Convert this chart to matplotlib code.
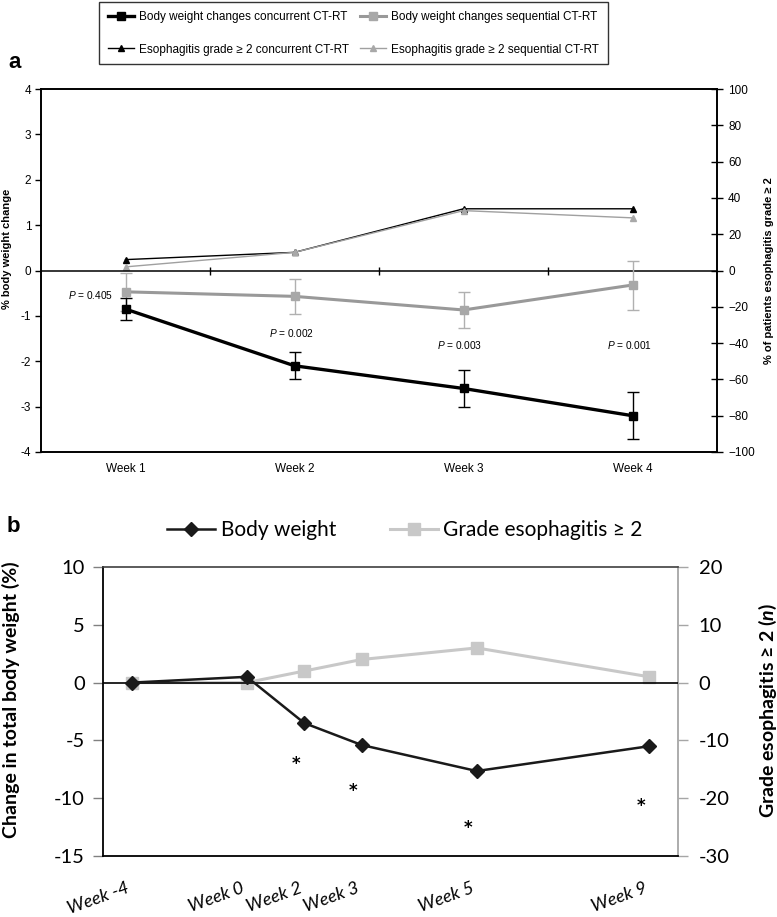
import matplotlib
matplotlib.use("Agg")
import matplotlib.pyplot as plt
import numpy as np

plt.rcParams['mathtext.fontset'] = 'custom'
plt.rcParams['mathtext.rm'] = 'Liberation Sans'
plt.rcParams['mathtext.it'] = 'Liberation Sans:italic'
plt.rcParams['mathtext.bfit'] = 'Lato:bold:italic'
plt.rcParams['font.family'] = ['Liberation Sans', 'DejaVu Sans']

# ---------------- Panel a data ----------------
weeks_a = ['Week 1', 'Week 2', 'Week 3', 'Week 4']
bw_conc = [-0.85, -2.1, -2.6, -3.2]
bw_conc_err = [0.25, 0.3, 0.4, 0.52]
bw_seq = [-0.47, -0.57, -0.87, -0.32]
bw_seq_err = [0.42, 0.38, 0.39, 0.54]
eso_conc = [6, 10, 34, 34]
eso_seq = [2, 10, 33, 29]
p_values = ['0.405', '0.002', '0.003', '0.001']
p_y = [-0.53, -1.38, -1.65, -1.65]

# ---------------- Panel b data ----------------
weeks_b = ['Week -4', 'Week 0', 'Week 2', 'Week 3', 'Week 5', 'Week 9']
x_b = [0, 2, 3, 4, 6, 9]
bw_b = [0, 0.5, -3.5, -5.4, -7.65, -5.5]
eso_b = [0, 0, 2, 4, 6, 1]
star_idx = [2, 3, 4, 5]
star_y = [-7.0, -9.4, -12.6, -10.7]

W, H = 777, 917
fig = plt.figure(figsize=(W / 100, H / 100), dpi=100)

def fx(px):
    return px / W

def fy(py):
    return 1 - py / H

# ================= Panel a =================
ax = fig.add_axes([fx(41), fy(452), fx(717) - fx(41), fy(89) - fy(452)])
xa = np.arange(len(weeks_a))
ax.set_xlim(-0.5, len(weeks_a) - 0.5)
ax.set_ylim(-4, 4)
ax.set_yticks(np.arange(-4, 5, 1))
ax.set_yticklabels([str(v) for v in range(-4, 5)])
ax.set_xticks(xa)
ax.set_xticklabels(weeks_a)
ax.tick_params(axis='x', length=0, pad=8, labelsize=8.5)
ax.tick_params(axis='y', direction='out', length=4, width=1, pad=3, labelsize=8.5)
for s in ax.spines.values():
    s.set_linewidth(1.2)
    s.set_color('black')

ax.axhline(0, color='black', lw=1.1, zorder=1)
bounds = xa[:-1] + 0.5
ax.plot(bounds, np.zeros_like(bounds), ls='none', marker='|', ms=5.5, mew=1,
        color='black', zorder=1)

ax2 = ax.twinx()
ax2.set_ylim(-100, 100)
ax2.set_yticks(np.arange(-100, 101, 20))
ax2.tick_params(axis='y', direction='inout', length=8, width=1, pad=4, labelsize=8.5)
for s in ax2.spines.values():
    s.set_linewidth(1.2)

l_eso_conc, = ax2.plot(xa, eso_conc, color='black', lw=1.0, marker='^', ms=5,
                       zorder=3, label='Esophagitis grade \u2265 2 concurrent CT-RT')
l_eso_seq, = ax2.plot(xa, eso_seq, color='#a0a0a0', lw=1.0, marker='^', ms=5,
                      mfc='#a8a8a8', mec='#a8a8a8', zorder=3,
                      label='Esophagitis grade \u2265 2 sequential CT-RT')

ax.set_zorder(ax2.get_zorder() + 1)
ax.patch.set_visible(False)

ax.errorbar(xa, bw_seq, yerr=bw_seq_err, fmt='none', ecolor='#b0b0b0',
            elinewidth=1.0, capsize=4, capthick=1.0, zorder=2)
l_bw_seq, = ax.plot(xa, bw_seq, color='#999999', lw=2.2, marker='s', ms=6,
                    mfc='#a8a8a8', mec='#a8a8a8', zorder=3,
                    label='Body weight changes sequential CT-RT')
ax.errorbar(xa, bw_conc, yerr=bw_conc_err, fmt='none', ecolor='black',
            elinewidth=1.0, capsize=4, capthick=1.0, zorder=4)
l_bw_conc, = ax.plot(xa, bw_conc, color='black', lw=2.4, marker='s', ms=6,
                     zorder=5, label='Body weight changes concurrent CT-RT')

for i, (pv, py) in enumerate(zip(p_values, p_y)):
    if i == 0:
        ax.text(xa[i] - 0.07, py, '$P$ = ' + pv, ha='right', va='center', fontsize=7.3)
    else:
        ax.text(xa[i] - 0.02, py, '$P$ = ' + pv, ha='center', va='center', fontsize=7.3)

ax.set_ylabel('% body weight change', fontsize=8, fontweight='bold')
ax.yaxis.set_label_coords(-0.043, 0.56)
ax2.set_ylabel('% of patients esophagitis grade \u2265 2', fontsize=8, fontweight='bold')
ax2.yaxis.set_label_coords(1.07, 0.5)

leg = fig.legend([l_bw_conc, l_eso_conc, l_bw_seq, l_eso_seq],
                 [h.get_label() for h in [l_bw_conc, l_eso_conc, l_bw_seq, l_eso_seq]],
                 ncol=2, loc='upper left', bbox_to_anchor=(fx(99), fy(2)),
                 bbox_transform=fig.transFigure, borderaxespad=0,
                 fontsize=8.5, frameon=True, fancybox=False, edgecolor='black',
                 handlelength=2.2, handletextpad=0.4, columnspacing=1.0,
                 labelspacing=1.75, borderpad=0.75)
leg.get_frame().set_linewidth(1.0)

fig.text(fx(8), fy(62), 'a', fontsize=16, fontweight='bold', ha='left', va='center')

# ================= Panel b =================
LATO = ['Lato', 'DejaVu Sans']
bx = fig.add_axes([fx(103), fy(856), fx(678) - fx(103), fy(567) - fy(856)])
bx.set_xlim(-0.5, 9.5)
bx.set_ylim(-15, 10)
bx.set_yticks(np.arange(-15, 11, 5))
bx.set_yticklabels([str(v) for v in range(-15, 11, 5)], family=LATO)
bx.tick_params(axis='y', direction='out', length=7, width=1, pad=6, labelsize=14.5,
               color='#808080')
bx.set_xticks(x_b)
bx.set_xticklabels(weeks_b, rotation=20, ha='right', va='top', family=LATO,
                   style='italic', fontsize=13)
bx.tick_params(axis='x', length=0, pad=17)
for side in ['left', 'bottom']:
    bx.spines[side].set_color('black')
    bx.spines[side].set_linewidth(1.3)
bx.spines['top'].set_color('#404040')
bx.spines['top'].set_linewidth(1.2)
bx.spines['right'].set_visible(False)
bx.axhline(0, color='black', lw=1.2, zorder=1)

bx2 = bx.twinx()
bx2.set_ylim(-30, 20)
bx2.set_yticks(np.arange(-30, 21, 10))
bx2.set_yticklabels([str(v) for v in range(-30, 21, 10)], family=LATO)
bx2.tick_params(axis='y', direction='out', length=7, width=1, pad=8, labelsize=14.5,
                color='#a6a6a6')
bx2.spines['right'].set_color('#a6a6a6')
bx2.spines['right'].set_linewidth(1.3)
for side in ['left', 'top', 'bottom']:
    bx2.spines[side].set_visible(False)

l_eso_b, = bx2.plot(x_b, eso_b, color='#c8c8c8', lw=2.2, marker='s', ms=8,
                    zorder=2, label='Grade esophagitis \u2265 2')
bx.set_zorder(bx2.get_zorder() + 1)
bx.patch.set_visible(False)
l_bw_b, = bx.plot(x_b, bw_b, color='#1a1a1a', lw=1.8, marker='D', ms=7,
                  zorder=3, label='Body weight')

for i, sy in zip(star_idx, star_y):
    bx.text(x_b[i] - 0.15, sy, '*', ha='center', va='center', fontsize=12,
            fontweight='bold', family=['DejaVu Sans'])

bx.set_ylabel('Change in total body weight (%)', family=LATO, fontweight='bold',
              fontsize=14)
bx.yaxis.set_label_coords(-0.144, 0.54)
bx2.set_ylabel('Grade esophagitis \u2265 2 ($\\mathbfit{n}$)', family=LATO,
               fontweight='bold', fontsize=14)
bx2.yaxis.set_label_coords(1.137, 0.505)

fig.legend([l_bw_b, l_eso_b], ['Body weight', 'Grade esophagitis \u2265 2'],
           ncol=2, loc='center', bbox_to_anchor=(fx(405), fy(530)),
           bbox_transform=fig.transFigure, frameon=False,
           prop={'family': LATO, 'size': 15}, handlelength=2.3,
           handletextpad=0.25, columnspacing=2.6)

fig.text(fx(7), fy(527), 'b', fontsize=16, fontweight='bold', ha='left', va='center')

fig.savefig('out.png', dpi=100)
